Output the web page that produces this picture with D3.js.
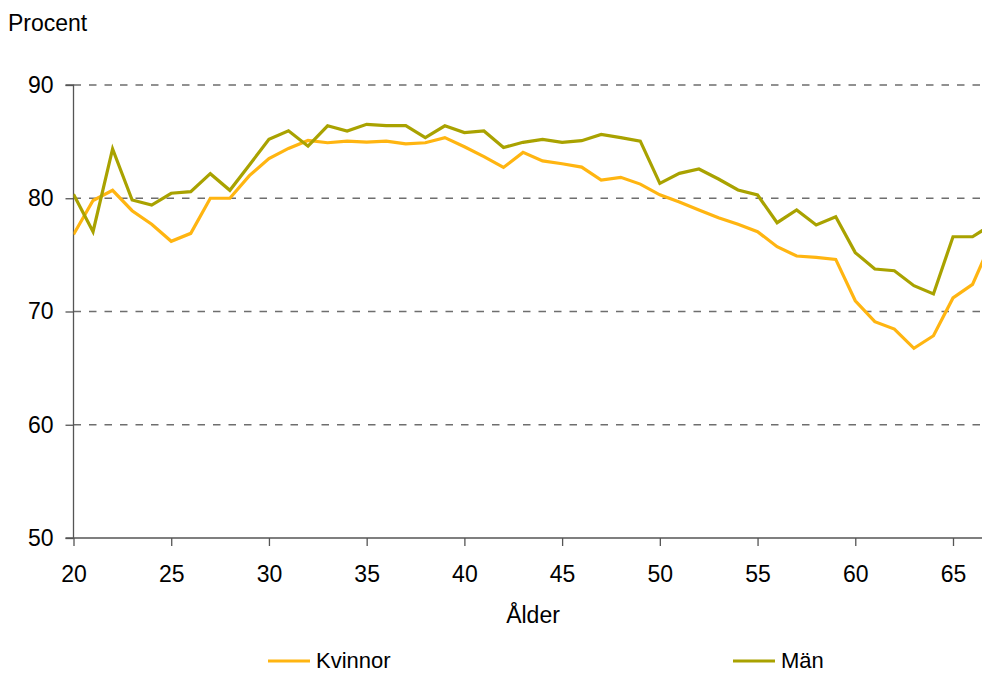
<!DOCTYPE html>
<html>
<head>
<meta charset="utf-8">
<script src="https://cdn.jsdelivr.net/npm/d3@7"></script>
<style>
  html, body { margin: 0; padding: 0; background: #fff; }
  svg { display: block; font-family: "Liberation Sans", Arial, sans-serif; }
</style>
</head>
<body>
<svg id="chart" width="982" height="674"></svg>
<script>
const ages = [20,21,22,23,24,25,26,27,28,29,30,31,32,33,34,35,36,37,38,39,40,41,42,43,44,45,46,47,48,49,50,51,52,53,54,55,56,57,58,59,60,61,62,63,64,65,66,67];
const kvinnor = [76.8,79.8,80.7,78.9,77.7,76.2,76.9,80.0,80.0,82.0,83.5,84.4,85.1,84.9,85.05,84.95,85.05,84.8,84.9,85.35,84.55,83.67,82.72,84.05,83.3,83.05,82.75,81.6,81.85,81.25,80.3,79.67,78.96,78.28,77.7,77.05,75.72,74.9,74.78,74.6,70.95,69.1,68.45,66.75,67.86,71.2,72.4,76.3];
const man = [80.35,77.05,84.35,79.85,79.4,80.44,80.58,82.17,80.7,82.94,85.2,85.96,84.6,86.4,85.94,86.53,86.41,86.41,85.35,86.4,85.8,85.94,84.48,84.94,85.2,84.94,85.08,85.64,85.35,85.05,81.32,82.2,82.58,81.7,80.73,80.29,77.84,78.96,77.64,78.37,75.2,73.75,73.6,72.28,71.55,76.6,76.6,77.7];
const seriesNames = ["Kvinnor", "Män"];
const seriesColors = ["#FFB511", "#A9A200"];
const yTicks = [50, 60, 70, 80, 90];
const xTicks = [20, 25, 30, 35, 40, 45, 50, 55, 60, 65];
const yTitle = "Procent";
const xTitle = "Ålder";

(function () {
const svg = d3.select("#chart");
const W = 982;
const mLeft = 73.5, mTop = 85, mBottom = 538;

const x = d3.scaleLinear().domain([20, 65]).range([mLeft, 953]);
const y = d3.scaleLinear().domain([50, 90]).range([mBottom, mTop]);

// gridlines
svg.append("g").selectAll("line")
  .data(yTicks.filter(d => d !== 50))
  .join("line")
  .attr("x1", mLeft).attr("x2", W)
  .attr("y1", d => y(d)).attr("y2", d => y(d))
  .attr("stroke", "#6e6e6e").attr("stroke-width", 1.3)
  .attr("stroke-dasharray", "7.5,8");

// y axis
const yAxis = svg.append("g").attr("transform", `translate(${mLeft},0)`)
  .call(d3.axisLeft(y).tickValues(yTicks).tickSize(8).tickPadding(12).tickFormat(d3.format("d")));
yAxis.select(".domain").attr("stroke", "#555").attr("stroke-width", 1.3).attr("d", `M-8,${mTop}H0V${mBottom}H-8`);
yAxis.selectAll(".tick line").attr("stroke", "#555").attr("stroke-width", 1.3);
yAxis.selectAll(".tick text").attr("font-size", 23).attr("fill", "#000")
  .attr("font-family", "Liberation Sans, Arial, sans-serif");

// x axis
const xAxis = svg.append("g").attr("transform", `translate(0,${mBottom})`)
  .call(d3.axisBottom(x).tickValues(xTicks).tickSize(8).tickPadding(20).tickFormat(d3.format("d")));
xAxis.select(".domain").attr("stroke", "#555").attr("stroke-width", 1.3).attr("d", `M${mLeft},0H${W}`);
xAxis.selectAll(".tick line").attr("stroke", "#555").attr("stroke-width", 1.3);
xAxis.selectAll(".tick text").attr("font-size", 23).attr("fill", "#000")
  .attr("font-family", "Liberation Sans, Arial, sans-serif");

// lines
svg.append("clipPath").attr("id", "plotclip")
  .append("rect").attr("x", mLeft).attr("y", 0).attr("width", W - mLeft).attr("height", mBottom);
const line = d3.line().x((d, i) => x(ages[i])).y(d => y(d));
const data = [kvinnor, man];
svg.append("g").attr("clip-path", "url(#plotclip)")
  .selectAll("path").data(data).join("path")
  .attr("d", d => line(d))
  .attr("fill", "none")
  .attr("stroke", (d, i) => seriesColors[i])
  .attr("stroke-width", 3.2)
  .attr("stroke-linejoin", "miter");

// titles
svg.append("text").attr("x", 8).attr("y", 31).attr("font-size", 23).text(yTitle);
svg.append("text").attr("x", 533).attr("y", 623).attr("text-anchor", "middle").attr("font-size", 23).text(xTitle);

// legend
const legendX = [268, 733];
const lg = svg.append("g").selectAll("g").data(seriesNames).join("g")
  .attr("transform", (d, i) => `translate(${legendX[i]},661)`);
lg.append("line").attr("x1", 0).attr("x2", 42).attr("y1", 0).attr("y2", 0)
  .attr("stroke", (d, i) => seriesColors[i]).attr("stroke-width", 3.2);
lg.append("text").attr("x", 48).attr("y", 7).attr("font-size", 22).text(d => d);
})();
</script>
</body>
</html>
